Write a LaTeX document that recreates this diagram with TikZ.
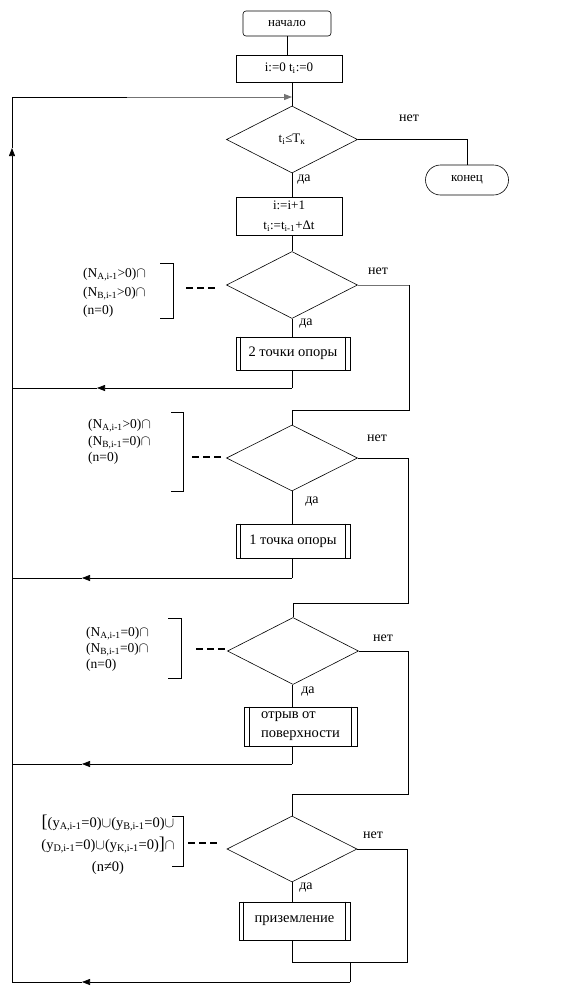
\documentclass[tikz,border=0pt]{standalone}
\usepackage{fontspec}
\setmainfont{Liberation Serif}
\usetikzlibrary{shapes.geometric,arrows.meta,calc}
\newcommand\lo[1]{\textsubscript{#1}}
\begin{document}
\begin{tikzpicture}[x=1pt,y=-1pt, font=\fontsize{13}{16}\selectfont,
 line/.style={line width=0.7pt},
 gline/.style={line width=1pt, draw=black!55},
 tip/.style={-{Triangle[length=8pt,width=6pt]}},
 arr/.style={line, tip},
 term/.style={draw, line width=0.6pt, rounded corners=3pt, minimum width=88pt, minimum height=25pt, inner sep=0},
 proc/.style={draw, line width=0.6pt, minimum width=106pt, inner sep=0, align=center},
 dec/.style={draw, diamond, line width=0.6pt, minimum width=131pt, minimum height=67pt, inner sep=0},
 subp/.style={draw, line width=0.6pt, inner sep=0, align=center, font=\fontsize{14.5}{18}\selectfont},
 lbl/.style={inner sep=0, font=\fontsize{14}{16}\selectfont},
 cmt/.style={inner sep=0, align=left},
 brk/.style={line width=0.7pt},
 dsh/.style={line width=1.4pt, dash pattern=on 7pt off 4pt},
]
\useasboundingbox (0,0) rectangle (562,997);

% nodes
\node[term] (start) at (287,23.5) {начало};
\node[proc, minimum height=27pt] (init) at (289,68.5) {i:=0 t\lo{i}:=0};
\node[dec] (d1) at (292,139.5) {t\lo{i}≤T\lo{к}};
\node[term, rounded corners=15pt, minimum width=83pt, minimum height=30pt] (end) at (467,180) {конец};
\node[proc, minimum height=38pt, font=\fontsize{13}{20}\selectfont] (step) at (289,216) {i:=i+1\\t\lo{i}:=t\lo{i-1}+Δt};

\node[dec] (d2) at (292,285) {};
\node[subp, minimum width=114pt, minimum height=33pt] (b2) at (293,353.5) {2 точки опоры};
\node[dec, minimum height=66pt] (d3) at (292,458) {};
\node[subp, minimum width=114pt, minimum height=34pt] (b3) at (293,541) {1 точка опоры};
\node[dec] (d4) at (293,651) {};
\node[subp, minimum width=113pt, minimum height=39pt, align=left, font=\fontsize{14.5}{19}\selectfont] (b4) at (300.5,726.5) {отрыв от\\поверхности};
\node[dec, minimum width=130pt, minimum height=66pt] (d5) at (292,849) {};
\node[subp, minimum width=111pt, minimum height=38pt] (b5) at (294.5,921) {приземление};

% inner lines of subprocess boxes
\foreach \b/\s in {b2/5,b3/5,b4/6,b5/5}{
  \draw[line] ([xshift=\s pt]\b.north west) -- ([xshift=\s pt]\b.south west);
  \draw[line] ([xshift=-\s pt]\b.north east) -- ([xshift=-\s pt]\b.south east);
}

% labels
\node[lbl] (n1) at (409,118) {нет};
\node[lbl] (n2) at (378,271) {нет};
\node[lbl] (n3) at (377,438) {нет};
\node[lbl] (n4) at (383,638) {нет};
\node[lbl] (n5) at (373,835) {нет};
\node[lbl] (y1) at (304,180) {да};
\node[lbl] (y2) at (306,324) {да};
\node[lbl] (y3) at (312,502) {да};
\node[lbl] (y4) at (308,692) {да};
\node[lbl] (y5) at (306,888) {да};

% comments
\node[cmt, anchor=west, font=\fontsize{13.5}{18.5}\selectfont] (c2) at (83,293) {(N\lo{A,i-1}>0)$\cap$\\(N\lo{B,i-1}>0)$\cap$\\(n=0)};
\node[cmt, anchor=west, font=\fontsize{13.5}{16.5}\selectfont] (c3) at (88,442) {(N\lo{A,i-1}>0)$\cap$\\(N\lo{B,i-1}=0)$\cap$\\(n=0)};
\node[cmt, anchor=west, font=\fontsize{13.5}{16}\selectfont] (c4) at (86,649) {(N\lo{A,i-1}=0)$\cap$\\(N\lo{B,i-1}=0)$\cap$\\(n=0)};
\node[cmt, align=center, font=\fontsize{14.5}{22}\selectfont] (c5) at (108,845) {{\fontsize{18}{18}\selectfont[}(y\lo{A,i-1}=0)$\cup$(y\lo{B,i-1}=0)$\cup$\\(y\lo{D,i-1}=0)$\cup$(y\lo{K,i-1}=0){\fontsize{18}{18}\selectfont]}$\cap$\\(n≠0)};

% brackets
\draw[brk] (160,263) -| (173,318) -- (160,318);
\draw[brk] (171,412) -| (183,491) -- (171,491);
\draw[brk] (168,618) -| (181,678) -- (168,678);
\draw[brk] (172,816) -| (183,866) -- (172,866);

% dashed links
\coordinate (k2a) at (186,288); \coordinate (k2b) at (217,288);
\coordinate (k3a) at (192,457); \coordinate (k3b) at (222,457);
\coordinate (k4a) at (196,649); \coordinate (k4b) at (226,649);
\coordinate (k5a) at (188,843); \coordinate (k5b) at (218,843);
\draw[dsh] (k2a) -- (k2b);
\draw[dsh] (k3a) -- (k3b);
\draw[dsh] (k4a) -- (k4b);
\draw[dsh] (k5a) -- (k5b);

% coordinates
\coordinate (top) at (292,97);
\coordinate (lt) at (12,97);
\coordinate (lg) at (127,97);
\coordinate (lup) at (12,148);
\coordinate (lb) at (12,982);
\coordinate (r2) at (409,410);
\coordinate (r3) at (408,603);
\coordinate (r4) at (408,794);
\coordinate (r5) at (407,962);
\coordinate (m5) at (292,962);
\coordinate (o5) at (350,962);
\coordinate (q5) at (350,982);
\coordinate (ret2) at (292,388); \coordinate (la2) at (97,388); \coordinate (lf2) at (12,388);
\coordinate (ret3) at (292,578); \coordinate (la3) at (82,578); \coordinate (lf3) at (12,578);
\coordinate (ret4) at (292,764); \coordinate (la4) at (82,764); \coordinate (lf4) at (12,764);
\coordinate (la5) at (82,982);

% main flow
\draw[line] (start.south) -- (start.south |- init.north);
\draw[line] (init.south -| d1.north) -- (d1.north);
\draw[line] (d1.east) -| (end.north);
\draw[line] (d1.south) -- (d1.south |- step.north);
\draw[line] (step.south -| d2.north) -- (d2.north);

\draw[gline] (d2.east) -- (d2.east -| r2);
\draw[line] (d2.east -| r2) -- (r2) -- (r2 -| d3.north) -- (d3.north);
\draw[line] (d2.south) -- (d2.south |- b2.north);
\draw[line] (b2.south -| d2.south) -- (ret2);
\draw[arr] (ret2) -- (la2);
\draw[line] (la2) -- (lf2);

\draw[line] (d3.east) -| (r3) -- (r3 -| d4.north) -- (d4.north);
\draw[line] (d3.south) -- (d3.south |- b3.north);
\draw[line] (b3.south -| d3.south) -- (ret3);
\draw[arr] (ret3) -- (la3);
\draw[line] (la3) -- (lf3);

\draw[line] (d4.east) -| (r4) -- (r4 -| d5.north) -- (d5.north);
\draw[line] (d4.south -| ret4) -- (ret4 |- b4.north);
\draw[line] (b4.south -| ret4) -- (ret4);
\draw[arr] (ret4) -- (la4);
\draw[line] (la4) -- (lf4);

\draw[line] (d5.east) -| (r5) -- (m5);
\draw[line] (d5.south) -- (d5.south |- b5.north);
\draw[line] (b5.south -| m5) -- (m5);
\draw[line] (o5) -- (q5);
\draw[arr] (q5) -- (la5);
\draw[line] (la5) -- (lb);

% loop back
\draw[arr] (lb) -- (lup);
\draw[line] (lup) -- (lt) -- (lg);
\draw[gline, tip] (lg) -- (top);
\end{tikzpicture}
\end{document}
